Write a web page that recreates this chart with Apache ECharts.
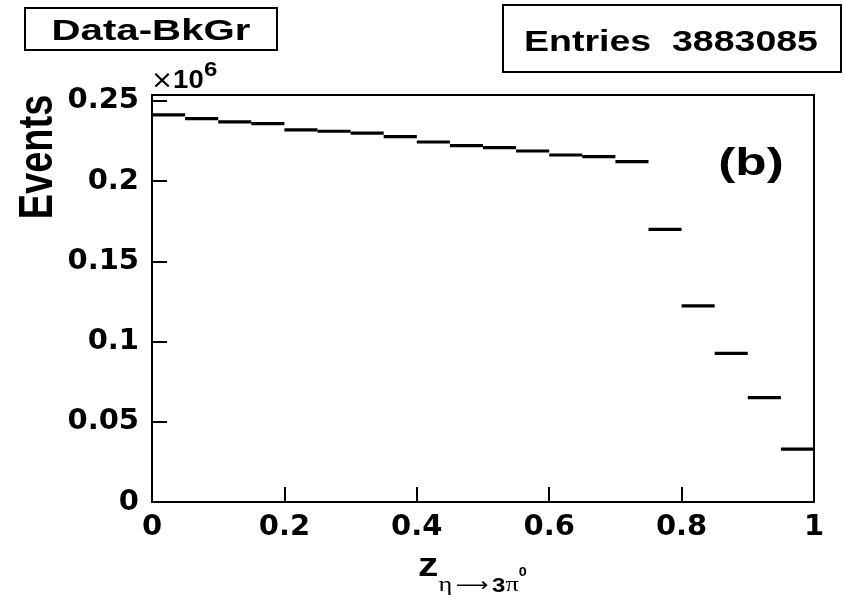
<!DOCTYPE html>
<html>
<head>
<meta charset="utf-8">
<script src="https://cdn.jsdelivr.net/npm/echarts@6/dist/echarts.min.js"></script>
<style>html,body{margin:0;padding:0;background:#fff}#c{width:844px;height:595px}</style>
</head>
<body>
<div id="c"></div>
<script>
// Data (Events in units of 10^6), 20 bins of z from 0 to 1
const binLow = [0.00, 0.05, 0.10, 0.15, 0.20, 0.25, 0.30, 0.35, 0.40, 0.45,
                0.50, 0.55, 0.60, 0.65, 0.70, 0.75, 0.80, 0.85, 0.90, 0.95];
const binWidth = 0.05;
const events = [0.2413, 0.2390, 0.2369, 0.2358, 0.2319, 0.2311, 0.2299, 0.2277, 0.2244, 0.2221,
                0.2209, 0.2188, 0.2163, 0.2153, 0.2122, 0.1700, 0.1222, 0.0927, 0.0650, 0.0329];
const xTickInterval = 0.2;
const yTickInterval = 0.05;
const yMax = 0.2537;
const entriesText = 'Entries  3883085';
const titleText = 'Data-BkGr';
const panelLabel = '(b)';
const yTitle = 'Events';

const chart = echarts.init(document.getElementById('c'), null, {renderer: 'canvas'});
const tickFont = {fontFamily: 'DejaVu Sans', fontWeight: 'bold', fontSize: 29, color: '#000'};

const option = {
  animation: false,
  backgroundColor: '#fff',
  grid: {left: 152, right: 30, top: 95, bottom: 93, show: true, borderColor: '#000', borderWidth: 2, backgroundColor: 'transparent'},
  xAxis: {
    type: 'value', min: 0, max: 1, interval: xTickInterval,
    axisLine: {show: true, onZero: false, lineStyle: {color: '#000', width: 2}},
    axisTick: {show: true, inside: true, length: 15, lineStyle: {color: '#000', width: 2}},
    splitLine: {show: false},
    axisLabel: Object.assign({margin: 11}, tickFont)
  },
  yAxis: {
    type: 'value', min: 0, max: yMax, interval: yTickInterval,
    axisLine: {show: true, lineStyle: {color: '#000', width: 2}},
    axisTick: {show: true, inside: true, length: 15, lineStyle: {color: '#000', width: 2}},
    splitLine: {show: false},
    axisLabel: Object.assign({margin: 13, showMaxLabel: false}, tickFont)
  },
  series: [{
    type: 'custom',
    data: binLow.map((lo, i) => [lo, lo + binWidth, events[i]]),
    encode: {x: [0, 1], y: 2},
    renderItem: function (params, api) {
      const p0 = api.coord([api.value(0), api.value(2)]);
      const p1 = api.coord([api.value(1), api.value(2)]);
      return {type: 'line', shape: {x1: p0[0], y1: p0[1], x2: p1[0], y2: p1[1]},
              style: {stroke: '#000', lineWidth: 3.2}};
    }
  }],
  graphic: [
    {type: 'rect', shape: {x: 25, y: 8, width: 252, height: 42}, style: {fill: '#fff', stroke: '#000', lineWidth: 2}},
    {type: 'text', x: 151, y: 32, scaleX: 1.34,
     style: {text: titleText, align: 'center', verticalAlign: 'middle', fontFamily: 'Liberation Sans', fontWeight: 'bold', fontSize: 30, fill: '#000'}},
    {type: 'rect', shape: {x: 503, y: 5, width: 338, height: 67}, style: {fill: '#fff', stroke: '#000', lineWidth: 2}},
    {type: 'text', x: 671, y: 43, scaleX: 1.25,
     style: {text: entriesText, align: 'center', verticalAlign: 'middle', fontFamily: 'Liberation Sans', fontWeight: 'bold', fontSize: 30, fill: '#000'}},
    {type: 'text', x: 751, y: 165, scaleX: 1.35,
     style: {text: panelLabel, align: 'center', verticalAlign: 'middle', fontFamily: 'Liberation Sans', fontWeight: 'bold', fontSize: 38, fill: '#000'}},
    {type: 'text', x: 39, y: 157, rotation: Math.PI / 2, scaleY: 1.27,
     style: {text: yTitle, align: 'center', verticalAlign: 'middle', fontFamily: 'Liberation Sans', fontWeight: 'bold', fontSize: 38, fill: '#000'}},
    {type: 'text', x: 151, y: 94, scaleX: 1.1,
     style: {text: '{a|×}{b|10}', align: 'left', verticalAlign: 'bottom',
             rich: {a: {fontFamily: 'DejaVu Sans', fontSize: 24, fill: '#000'},
                    b: {fontFamily: 'Liberation Sans', fontWeight: 'bold', fontSize: 25, fill: '#000'}}}},
    {type: 'text', x: 204, y: 70, scaleX: 1.2,
     style: {text: '6', align: 'left', verticalAlign: 'middle', fontFamily: 'Liberation Sans', fontWeight: 'bold', fontSize: 20, fill: '#000'}},
    {type: 'text', x: 418, y: 550, scaleX: 1.2,
     style: {text: '{z|z}{g|η}{ar|⟶}{b|3}{g|π}{s|0}', align: 'left', verticalAlign: 'top',
             rich: {
               z: {fontFamily: 'Liberation Sans', fontWeight: 'bold', fontSize: 34, lineHeight: 28, verticalAlign: 'top', fill: '#000'},
               g: {fontFamily: 'Liberation Serif', fontSize: 22, lineHeight: 22, verticalAlign: 'bottom', fill: '#000'},
               ar: {fontFamily: 'DejaVu Sans', fontSize: 19, lineHeight: 22, verticalAlign: 'bottom', padding: [0, 3, 0, 3], fill: '#000'},
               b: {fontFamily: 'Liberation Sans', fontWeight: 'bold', fontSize: 20, lineHeight: 22, verticalAlign: 'bottom', fill: '#000'},
               s: {fontFamily: 'Liberation Sans', fontWeight: 'bold', fontSize: 12, lineHeight: 46, verticalAlign: 'middle', fill: '#000'}
             }}}
  ]
};
chart.setOption(option);
</script>
</body>
</html>
